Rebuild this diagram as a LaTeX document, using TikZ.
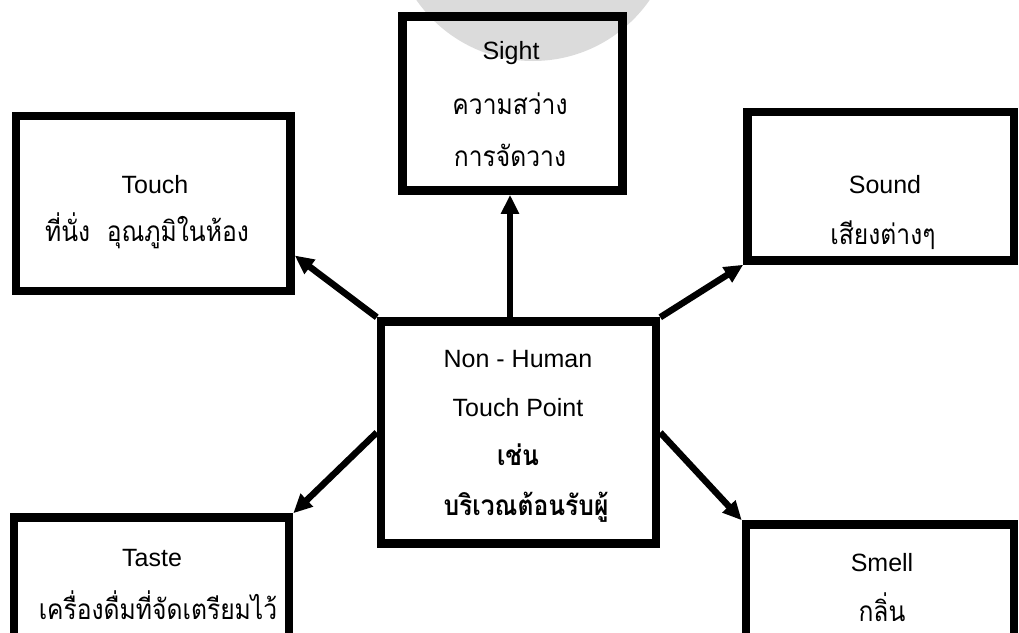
\documentclass[tikz,border=0pt]{standalone}
\usepackage{fontspec}
\setmainfont{Liberation Sans}
\newfontfamily\thaifont[Script=Thai,FakeStretch=0.88]{Loma}
\usetikzlibrary{arrows.meta}
\definecolor{wmgray}{gray}{0.86}
\begin{document}
\begin{tikzpicture}[x=1pt,y=-1pt,
  box/.style={draw, line width=8.5pt, inner sep=0pt},
  lat/.style={font=\fontsize{25}{25}\selectfont, anchor=base, inner sep=0pt},
  th/.style={font=\thaifont\fontsize{28}{28}\selectfont, anchor=base, inner sep=0pt},
  thb/.style={font=\thaifont\bfseries\fontsize{28}{28}\selectfont, anchor=base, inner sep=0pt},
  arr/.style={line width=6.5pt, -{Triangle[length=19pt,width=17pt]}}]
\useasboundingbox (0,0) rectangle (1019,632);
\fill[wmgray] (533,-81) circle[radius=142];
% boxes
\node[box, minimum width=220pt, minimum height=174pt] (sight) at (512.5,103.5) {};
\node[box, minimum width=274.5pt, minimum height=175pt] (touch) at (153.25,203.5) {};
\node[box, minimum width=266.5pt, minimum height=148.5pt] (sound) at (880.75,186.25) {};
\node[box, minimum width=275pt, minimum height=222pt] (cbox) at (518.5,432.5) {};
\node[box, minimum width=275pt, minimum height=182.5pt] (taste) at (151.5,608.75) {};
\node[box, minimum width=268pt, minimum height=175.5pt] (smell) at (880,612.25) {};
% texts
\node[lat] (t1) at (511,59) {Sight};
\node[th] (t2) at (510,114) {ความสว่าง};
\node[th] (t3) at (510,166) {การจัดวาง};
\node[lat] (t4) at (155,193) {Touch};
\node[th] (t5) at (147,241) {ที่นั่ง\ \ อุณภูมิในห้อง};
\node[lat] (t6) at (885,193) {Sound};
\node[th] (t7) at (883,244) {เสียงต่างๆ};
\node[lat] (t8) at (518,367) {Non - Human};
\node[lat] (t9) at (518,416) {Touch Point};
\node[thb] (t10) at (518,465) {เช่น};
\node[thb] (t11) at (526,515) {บริเวณต้อนรับผู้};
\node[lat] (t12) at (152,566) {Taste};
\node[th] (t13) at (158,619) {เครื่องดื่มที่จัดเตรียมไว้};
\node[lat] (t14) at (882,571) {Smell};
\node[th] (t15) at (882,621) {กลิ่น};
% arrows
\draw[arr] ([xshift=-8.5pt]cbox.north) -- ([xshift=-8.5pt]cbox.north |- sight.south);
\draw[arr] (cbox.north west) -- ([yshift=-52pt]touch.east);
\draw[arr] (cbox.north east) -- (sound.south west);
\draw[arr] (cbox.west) -- (taste.north east);
\draw[arr] (cbox.east) -- (smell.north west);
\end{tikzpicture}
\end{document}
